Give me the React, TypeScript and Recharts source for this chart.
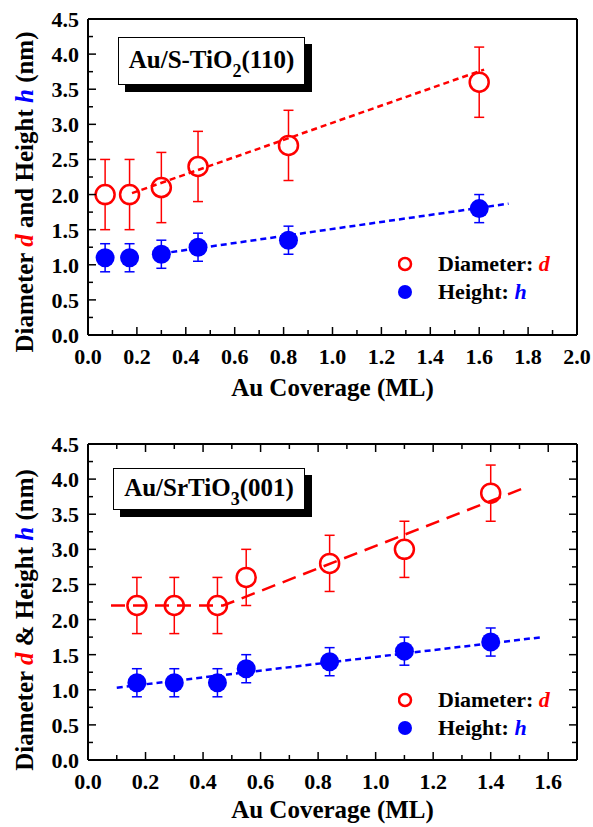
import { ComposedChart, ErrorBar, Label, Legend, Scatter, XAxis, YAxis } from 'recharts'

const FONT = 'Liberation Serif, Times New Roman, Tinos, serif'
const RED = '#ff0000'
const BLUE = '#0000ff'

// axis ticks (major + minor)
const TOP_X_TICKS = [0, 0.1, 0.2, 0.3, 0.4, 0.5, 0.6, 0.7, 0.8, 0.9, 1.0, 1.1, 1.2, 1.3, 1.4, 1.5, 1.6, 1.7, 1.8, 1.9, 2.0]
const BOTTOM_X_TICKS = [0, 0.1, 0.2, 0.3, 0.4, 0.5, 0.6, 0.7, 0.8, 0.9, 1.0, 1.1, 1.2, 1.3, 1.4, 1.5, 1.6, 1.7]
const Y_TICKS = [0, 0.25, 0.5, 0.75, 1.0, 1.25, 1.5, 1.75, 2.0, 2.25, 2.5, 2.75, 3.0, 3.25, 3.5, 3.75, 4.0, 4.25, 4.5]

// Au/S-TiO2(110)
const sCoverage = [0.07, 0.17, 0.3, 0.45, 0.82, 1.6]
const sDiameter = [2.0, 2.0, 2.1, 2.4, 2.7, 3.6]
const sDiameterErr = [0.5, 0.5, 0.5, 0.5, 0.5, 0.5]
const sHeight = [1.1, 1.1, 1.15, 1.25, 1.35, 1.8]
const sHeightErr = [0.2, 0.2, 0.2, 0.2, 0.2, 0.2]
const sDiameterFitX = [0.18, 1.62]
const sDiameterFitY = [2.02, 3.78]
const sHeightFitX = [0.3, 1.72]
const sHeightFitY = [1.16, 1.87]

// Au/SrTiO3(001)
const srCoverage = [0.17, 0.3, 0.45, 0.55, 0.84, 1.1, 1.4]
const srDiameter = [2.2, 2.2, 2.2, 2.6, 2.8, 3.0, 3.8]
const srDiameterErr = [0.4, 0.4, 0.4, 0.4, 0.4, 0.4, 0.4]
const srHeight = [1.1, 1.1, 1.1, 1.3, 1.4, 1.55, 1.68]
const srHeightErr = [0.2, 0.2, 0.2, 0.2, 0.2, 0.2, 0.2]
const srDiameterFitX = [0.08, 0.47, 1.52]
const srDiameterFitY = [2.2, 2.2, 3.88]
const srHeightFitX = [0.1, 1.58]
const srHeightFitY = [1.03, 1.75]

const zip = (xs: number[], ys: number[], errs?: number[]) =>
  xs.map((x, i) => ({ x, y: ys[i], err: errs ? errs[i] : 0 }))

const isStep = (v: number, step: number) => Math.abs(v / step - Math.round(v / step)) < 1e-6

// ---- tick renderers (ticks point inward) ----
function BottomTick({ x, y, payload, labels }: any) {
  const major = isStep(payload.value, 0.2)
  return (
    <g>
      <line x1={x} x2={x} y1={y} y2={y - (major ? 8 : 5)} stroke="#000" strokeWidth={1.5} />
      {labels && major && (
        <text x={x} y={y + 29} textAnchor="middle" fontFamily={FONT} fontWeight="bold" fontSize={22} fill="#000">
          {payload.value.toFixed(1)}
        </text>
      )}
    </g>
  )
}

function TopTick({ x, y, payload }: any) {
  const major = isStep(payload.value, 0.2)
  return <line x1={x} x2={x} y1={y} y2={y + (major ? 8 : 5)} stroke="#000" strokeWidth={1.5} />
}

function LeftTick({ x, y, payload }: any) {
  const major = isStep(payload.value, 0.5)
  return (
    <g>
      <line x1={x} x2={x + (major ? 8 : 5)} y1={y} y2={y} stroke="#000" strokeWidth={1.5} />
      {major && (
        <text x={x - 9} y={y + 8} textAnchor="end" fontFamily={FONT} fontWeight="bold" fontSize={22} fill="#000">
          {payload.value.toFixed(1)}
        </text>
      )}
    </g>
  )
}

function RightTick({ x, y, payload }: any) {
  const major = isStep(payload.value, 0.5)
  return <line x1={x} x2={x - (major ? 8 : 5)} y1={y} y2={y} stroke="#000" strokeWidth={1.5} />
}

const OpenCircle = ({ cx, cy }: any) => (
  <circle cx={cx} cy={cy} r={9.5} fill="#fff" stroke={RED} strokeWidth={2.5} />
)
const FilledCircle = ({ cx, cy }: any) => <circle cx={cx} cy={cy} r={9.5} fill={BLUE} />
const NoShape = () => <g />

function yLabel(joiner: string, shift: number) {
  return ({ viewBox }: any) => {
    const cx = 24
    const cy = viewBox.y + viewBox.height / 2 + shift
    return (
      <text
        x={cx}
        y={cy}
        transform={`rotate(-90, ${cx}, ${cy})`}
        textAnchor="middle"
        dominantBaseline="central"
        fontFamily={FONT}
        fontWeight="bold"
        fontSize={25}
        fill="#000"
      >
        <tspan>Diameter </tspan>
        <tspan fill={RED} fontStyle="italic">d</tspan>
        <tspan>{` ${joiner} Height `}</tspan>
        <tspan fill={BLUE} fontStyle="italic">h</tspan>
        <tspan> (nm)</tspan>
      </text>
    )
  }
}

function xLabel(offset: number) {
  return ({ viewBox }: any) => (
    <text
      x={viewBox.x + viewBox.width / 2}
      y={viewBox.y + offset}
      textAnchor="middle"
      fontFamily={FONT}
      fontWeight="bold"
      fontSize={25}
      fill="#000"
    >
      Au Coverage (ML)
    </text>
  )
}

function LegendBox() {
  const row = { display: 'flex', alignItems: 'center', height: 28 } as const
  return (
    <div style={{ fontFamily: FONT, fontWeight: 'bold', fontSize: 22, color: '#000', whiteSpace: 'nowrap' }}>
      <div style={row}>
        <svg width={40} height={20}>
          <circle cx={7} cy={10} r={6} fill="#fff" stroke={RED} strokeWidth={2.5} />
        </svg>
        <span>
          Diameter: <i style={{ color: RED }}>d</i>
        </span>
      </div>
      <div style={row}>
        <svg width={40} height={20}>
          <circle cx={7} cy={10} r={7} fill={BLUE} />
        </svg>
        <span>
          Height: <i style={{ color: BLUE }}>h</i>
        </span>
      </div>
    </div>
  )
}

function TitleBox({ left, top, width, height, children }: any) {
  return (
    <div
      style={{
        position: 'absolute',
        left,
        top,
        width,
        height,
        boxSizing: 'border-box',
        border: '1px solid #000',
        background: '#fff',
        boxShadow: '7px 7px 0 #000',
        display: 'flex',
        alignItems: 'center',
        justifyContent: 'center',
        fontFamily: FONT,
        fontWeight: 'bold',
        fontSize: 25,
        lineHeight: 1,
        color: '#000',
        whiteSpace: 'nowrap',
      }}
    >
      <span style={{ marginTop: -4 }}>{children}</span>
    </div>
  )
}

const Sub = ({ children }: any) => (
  <span style={{ fontSize: 18, position: 'relative', top: 9 }}>{children}</span>
)

interface PanelProps {
  height: number
  marginTop: number
  bottomAxisHeight: number
  xMax: number
  xTicks: number[]
  diameter: { x: number; y: number; err: number }[]
  heightPts: { x: number; y: number; err: number }[]
  diameterFit: { x: number; y: number }[]
  heightFit: { x: number; y: number }[]
  diameterDash: string
  framedTicks: boolean
  joiner: string
  yLabelShift: number
  xLabelOffset: number
  legendTop: number
}

function Panel(p: PanelProps) {
  return (
    <ComposedChart
      width={593}
      height={p.height}
      margin={{ top: p.marginTop, right: 15, bottom: 0, left: 0 }}
      style={{ fontFamily: FONT }}
    >
      <XAxis
        dataKey="x"
        type="number"
        domain={[0, p.xMax]}
        ticks={p.xTicks}
        interval={0}
        height={p.bottomAxisHeight}
        tickSize={0}
        tickMargin={0}
        tickLine={false}
        axisLine={{ stroke: '#000', strokeWidth: 2 }}
        tick={<BottomTick labels />}
        allowDataOverflow
      >
        <Label content={xLabel(p.xLabelOffset)} />
      </XAxis>
      <XAxis
        xAxisId="top"
        orientation="top"
        dataKey="x"
        type="number"
        domain={[0, p.xMax]}
        ticks={p.xTicks}
        interval={0}
        height={1}
        tickSize={0}
        tickMargin={0}
        tickLine={false}
        axisLine={{ stroke: '#000', strokeWidth: 2 }}
        tick={p.framedTicks ? <TopTick /> : false}
        allowDataOverflow
      />
      <YAxis
        dataKey="y"
        type="number"
        domain={[0, 4.5]}
        ticks={Y_TICKS}
        interval={0}
        width={88}
        tickSize={0}
        tickMargin={0}
        tickLine={false}
        axisLine={{ stroke: '#000', strokeWidth: 2 }}
        tick={<LeftTick />}
        allowDataOverflow
      >
        <Label content={yLabel(p.joiner, p.yLabelShift)} />
      </YAxis>
      <YAxis
        yAxisId="right"
        orientation="right"
        dataKey="y"
        type="number"
        domain={[0, 4.5]}
        ticks={Y_TICKS}
        interval={0}
        width={1}
        tickSize={0}
        tickMargin={0}
        tickLine={false}
        axisLine={{ stroke: '#000', strokeWidth: 2 }}
        tick={p.framedTicks ? <RightTick /> : false}
        allowDataOverflow
      />
      <Scatter name="Diameter" data={p.diameter} dataKey="y" shape={OpenCircle} isAnimationActive={false}>
        <ErrorBar dataKey="err" direction="y" width={5} stroke={RED} strokeWidth={1.5} isAnimationActive={false} />
      </Scatter>
      <Scatter name="Height" data={p.heightPts} dataKey="y" shape={FilledCircle} isAnimationActive={false}>
        <ErrorBar dataKey="err" direction="y" width={5} stroke={BLUE} strokeWidth={1.5} isAnimationActive={false} />
      </Scatter>
      <Scatter
        data={p.diameterFit}
        dataKey="y"
        shape={NoShape}
        line={{ stroke: RED, strokeWidth: 2.5, strokeDasharray: p.diameterDash }}
        isAnimationActive={false}
        legendType="none"
      />
      <Scatter
        data={p.heightFit}
        dataKey="y"
        shape={NoShape}
        line={{ stroke: BLUE, strokeWidth: 2.5, strokeDasharray: '6 4' }}
        isAnimationActive={false}
        legendType="none"
      />
      <Legend
        layout="vertical"
        align="center"
        verticalAlign="middle"
        content={<LegendBox />}
        wrapperStyle={{ left: 398, top: p.legendTop, width: 175 }}
      />
    </ComposedChart>
  )
}

export default function App() {
  return (
    <div style={{ position: 'absolute', left: 0, top: 0, width: 593, height: 827, background: '#fff' }}>
      <div style={{ position: 'absolute', left: 0, top: 0 }}>
        <Panel
          height={410}
          marginTop={18}
          bottomAxisHeight={75}
          xMax={2.0}
          xTicks={TOP_X_TICKS}
          diameter={zip(sCoverage, sDiameter, sDiameterErr)}
          heightPts={zip(sCoverage, sHeight, sHeightErr)}
          diameterFit={zip(sDiameterFitX, sDiameterFitY)}
          heightFit={zip(sHeightFitX, sHeightFitY)}
          diameterDash="6 4"
          framedTicks={false}
          joiner="and"
          yLabelShift={15}
          xLabelOffset={61}
          legendTop={250}
        />
      </div>
      <div style={{ position: 'absolute', left: 0, top: 410 }}>
        <Panel
          height={417}
          marginTop={33}
          bottomAxisHeight={67}
          xMax={1.7}
          xTicks={BOTTOM_X_TICKS}
          diameter={zip(srCoverage, srDiameter, srDiameterErr)}
          heightPts={zip(srCoverage, srHeight, srHeightErr)}
          diameterFit={zip(srDiameterFitX, srDiameterFitY)}
          heightFit={zip(srHeightFitX, srHeightFitY)}
          diameterDash="14 8"
          framedTicks
          joiner="&"
          yLabelShift={18}
          xLabelOffset={58}
          legendTop={276}
        />
      </div>
      <TitleBox left={118} top={37} width={187} height={48}>
        Au/S-TiO<Sub>2</Sub>(110)
      </TitleBox>
      <TitleBox left={113} top={468} width={192} height={42}>
        Au/SrTiO<Sub>3</Sub>(001)
      </TitleBox>
    </div>
  )
}
